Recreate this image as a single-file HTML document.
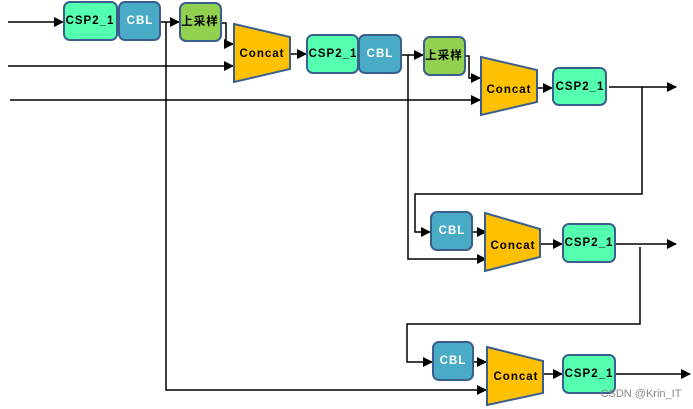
<!DOCTYPE html>
<html><head><meta charset="utf-8"><style>
html,body{margin:0;padding:0;background:#fff;}
svg{display:block}
text{font-family:"Liberation Sans","Noto Sans CJK SC",sans-serif;font-weight:bold;font-size:11.5px;letter-spacing:1px;text-anchor:middle;dominant-baseline:central}
</style></head><body>
<svg width="693" height="409" viewBox="0 0 693 409" xmlns="http://www.w3.org/2000/svg">
<defs><marker id="a" markerWidth="10" markerHeight="10" refX="9" refY="5" orient="auto" markerUnits="userSpaceOnUse"><path d="M0,0 L10,5 L0,10 z" fill="#000"/></marker></defs>
<g stroke="#000" stroke-width="1.5" fill="none">
<path d="M8,22 H63" marker-end="url(#a)"/>
<path d="M160,22 H179" marker-end="url(#a)"/>
<path d="M166,22 V390 H486" marker-end="url(#a)"/>
<path d="M221,23 H226 V44 H233" marker-end="url(#a)"/>
<path d="M8,66 H233" marker-end="url(#a)"/>
<path d="M290,54 H306" marker-end="url(#a)"/>
<path d="M10,100 H480" marker-end="url(#a)"/>
<path d="M401,55 H423" marker-end="url(#a)"/>
<path d="M408,55 V259 H486" marker-end="url(#a)"/>
<path d="M465,56 H469 V78 H480" marker-end="url(#a)"/>
<path d="M537,88 H552" marker-end="url(#a)"/>
<path d="M609,87 H676" marker-end="url(#a)"/>
<path d="M642,87 V194 H415 V232 H430" marker-end="url(#a)"/>
<path d="M472,232 H486" marker-end="url(#a)"/>
<path d="M540,244 H562" marker-end="url(#a)"/>
<path d="M615,244 H676" marker-end="url(#a)"/>
<path d="M640,247 V324 H407 V362 H432" marker-end="url(#a)"/>
<path d="M473,362 H486" marker-end="url(#a)"/>
<path d="M543,374 H562" marker-end="url(#a)"/>
<path d="M615,374 H690" marker-end="url(#a)"/>
</g>
<g stroke="#3a5f8f" stroke-width="2">
<rect x="64" y="2" width="53" height="38" rx="6" fill="#55ffb0"/>
<rect x="119" y="2" width="41" height="38" rx="6" fill="#4aabc6"/>
<rect x="180" y="3" width="41" height="38" rx="6" fill="#92d050"/>
<polygon points="234,24 290,37 290,69 234,82" fill="#ffc000"/>
<rect x="307" y="35" width="51" height="38" rx="6" fill="#55ffb0"/>
<rect x="359" y="35" width="42" height="38" rx="6" fill="#4aabc6"/>
<rect x="424" y="37" width="41" height="38" rx="6" fill="#92d050"/>
<polygon points="481,57 537,70 537,102 481,115" fill="#ffc000"/>
<rect x="553" y="68" width="53" height="37" rx="6" fill="#55ffb0"/>
<rect x="431" y="212" width="41" height="38" rx="6" fill="#4aabc6"/>
<polygon points="485,213 540,229 540,257 485,271" fill="#ffc000"/>
<rect x="563" y="224" width="52" height="38" rx="6" fill="#55ffb0"/>
<rect x="433" y="342" width="40" height="38" rx="6" fill="#4aabc6"/>
<polygon points="487,347 543,361 543,393 487,405" fill="#ffc000"/>
<rect x="563" y="355" width="52" height="38" rx="6" fill="#55ffb0"/>
</g>
<g>
<text x="90" y="21">CSP2_1</text>
<text x="140" y="21" fill="#fff">CBL</text>
<text x="200" y="22" letter-spacing="0">上采样</text>
<text x="262" y="54">Concat</text>
<text x="333" y="54">CSP2_1</text>
<text x="380" y="54" fill="#fff">CBL</text>
<text x="444" y="56" letter-spacing="0">上采样</text>
<text x="509" y="90">Concat</text>
<text x="580" y="87">CSP2_1</text>
<text x="452" y="231" fill="#fff">CBL</text>
<text x="513" y="246">Concat</text>
<text x="589" y="243">CSP2_1</text>
<text x="453" y="361" fill="#fff">CBL</text>
<text x="516" y="377">Concat</text>
<text x="589" y="374">CSP2_1</text>
<text x="641" y="394" style="font-weight:normal;font-size:11px;letter-spacing:0" fill="#888">CSDN @Krin_IT</text>
</g>
</svg>
</body></html>
